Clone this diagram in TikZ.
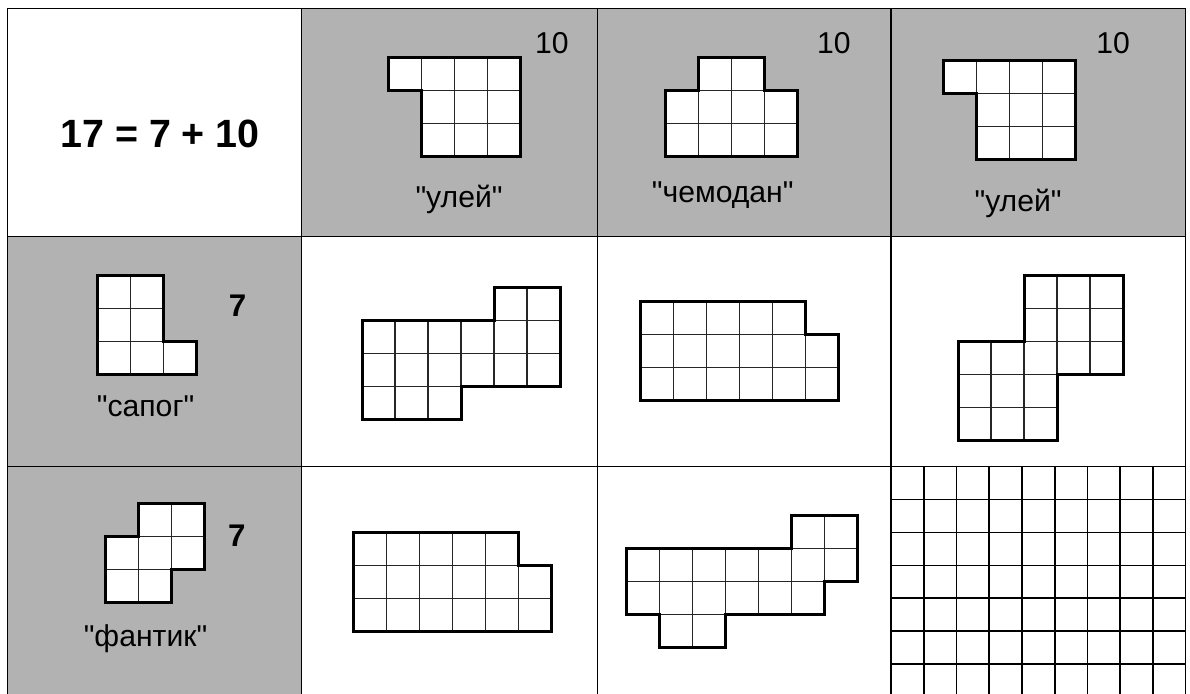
\documentclass[tikz,border=0pt]{standalone}
\usepackage{fontspec}
\setmainfont{Liberation Sans}[Ligatures=TeXOff]
\definecolor{panel}{gray}{0.70}
\tikzset{
  tab/.style={draw=black, line width=0.45pt},                    % table rules
  shaded/.style={fill=panel},
  cellsq/.style={draw=black!85, fill=white, line width=0.45pt},  % unit square
  rim/.style={draw=black, line width=1.3pt, line join=miter},    % outline of a piece
  sheet/.style={draw=black, line width=0.7pt},                   % squared paper
  num/.style={font=\fontsize{13}{15}\selectfont, inner sep=0pt},
  bnum/.style={font=\fontsize{13.5}{16}\selectfont\bfseries, inner sep=0pt},
  word/.style={font=\fontsize{13}{15}\selectfont, inner sep=0pt, anchor=base},
}
% #1 shift, #2 rows row/first/last, #3 outline
\newcommand{\polyo}[3]{%
  \begin{scope}[shift={#1}]
    \foreach \r/\a/\b in {#2}
      \foreach \c in {\a,...,\b} \draw[cellsq] (\c,\r) rectangle ++(1,1);
    \draw[rim] #3;
  \end{scope}}

\begin{document}
\begin{tikzpicture}[x=0.5cm, y=-0.5cm]
  \useasboundingbox (0,0) rectangle (36.06,21);
  \clip (0,0) rectangle (36.06,21);
  % table
  \fill[shaded] (9.15,0.25) rectangle (35.91,7.17);
  \fill[shaded] (0.221,7.17) rectangle (9.15,21.5);
  \foreach \x in {0.221,9.15,18.106,27.0,35.91} \draw[tab] (\x,0.25) -- (\x,21.5);
  \foreach \y in {0.25,7.17,14.14} \draw[tab] (0.221,\y) -- (35.91,\y);

  % pieces of 10
  \polyo{(11.76,1.736)}{0/0/3,1/1/3,2/1/3}{(0,0)--(4,0)--(4,3)--(1,3)--(1,1)--(0,1)--cycle}
  \polyo{(20.17,1.736)}{0/1/2,1/0/3,2/0/3}{(1,0)--(3,0)--(3,1)--(4,1)--(4,3)--(0,3)--(0,1)--(1,1)--cycle}
  \polyo{(28.58,1.82)}{0/0/3,1/1/3,2/1/3}{(0,0)--(4,0)--(4,3)--(1,3)--(1,1)--(0,1)--cycle}
  % pieces of 7
  \polyo{(2.96,8.36)}{0/0/1,1/0/1,2/0/2}{(0,0)--(2,0)--(2,2)--(3,2)--(3,3)--(0,3)--cycle}
  \polyo{(3.19,15.27)}{0/1/2,1/0/2,2/0/1}{(1,0)--(3,0)--(3,2)--(2,2)--(2,3)--(0,3)--(0,1)--(1,1)--cycle}
  % sums
  \polyo{(10.97,8.70)}{0/4/5,1/0/5,2/0/5,3/0/2}{(0,1)--(4,1)--(4,0)--(6,0)--(6,3)--(3,3)--(3,4)--(0,4)--cycle}
  \polyo{(19.41,9.14)}{0/0/4,1/0/5,2/0/5}{(0,0)--(5,0)--(5,1)--(6,1)--(6,3)--(0,3)--cycle}
  \polyo{(29.03,8.36)}{0/2/4,1/2/4,2/0/4,3/0/2,4/0/2}{(2,0)--(5,0)--(5,3)--(3,3)--(3,5)--(0,5)--(0,2)--(2,2)--cycle}
  \polyo{(10.70,16.15)}{0/0/4,1/0/5,2/0/5}{(0,0)--(5,0)--(5,1)--(6,1)--(6,3)--(0,3)--cycle}
  \polyo{(18.98,15.61)}{0/5/6,1/0/6,2/0/5,3/1/2}{(0,1)--(5,1)--(5,0)--(7,0)--(7,2)--(6,2)--(6,3)--(3,3)--(3,4)--(1,4)--(1,3)--(0,3)--cycle}

  % squared paper
  \foreach \k in {0,...,9} \draw[sheet] (27.0+0.992*\k,14.14) -- (27.0+0.992*\k,21.5);
  \foreach \k in {0,...,7} \draw[sheet] (27.0,14.14+0.997*\k) -- (35.91,14.14+0.997*\k);

  % labels
  \node[bnum, font=\fontsize{17}{20}\selectfont\bfseries] (sum) at (4.85,4.06) {17 = 7 + 10};
  \node[num] (tenA) at (16.72,1.30) {10};
  \node[num] (tenB) at (25.27,1.30) {10};
  \node[num] (tenC) at (33.73,1.30) {10};
  \node[word] (hiveA) at (13.91,6.28) {"улей"};
  \node[word] (case)  at (21.90,6.15) {"чемодан"};
  \node[word] (hiveB) at (30.85,6.40) {"улей"};
  \node[bnum] (sevA) at (7.20,9.27) {7};
  \node[bnum] (sevB) at (7.18,16.24) {7};
  \node[word] (boot)  at (4.41,12.62) {"сапог"};
  \node[word] (wrap)  at (4.41,19.58) {"фантик"};
\end{tikzpicture}
\end{document}
